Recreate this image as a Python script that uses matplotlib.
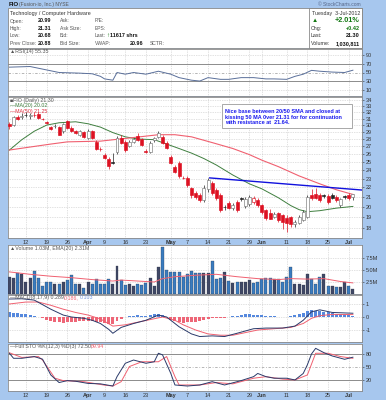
import numpy as np
import matplotlib
matplotlib.use("Agg")
import matplotlib.pyplot as plt
from matplotlib.patches import Rectangle

W, H = 386, 400

# ---- price data (FIO daily, 6-Mar-2012 .. 3-Jul-2012) ----
opens = [30.2, 30.0, 31.2, 31.3, 31.6, 31.4, 31.6, 31.7, 30.95, 30.4,
         29.7, 29.8, 29.7, 29.2, 30.6, 29.6, 29.1, 28.6, 29.0, 28.2,
         29.1, 27.6, 26.7, 25.9, 25.4, 24.95, 26.3, 28.2, 27.6, 27.1,
         27.6, 28.4, 28.0, 26.4, 26.3, 27.8, 28.3, 28.3, 27.5, 25.6,
         24.4, 24.9, 23.1, 23.1, 21.9, 21.4, 21.2, 20.7, 21.8, 22.5,
         21.7, 21.2, 20.0, 20.4, 19.9, 20.5, 20.9, 20.1, 20.3, 20.5,
         20.7, 20.2, 19.7, 19.4, 19.0, 19.4, 19.2, 18.9, 19.0, 18.3,
         18.45, 18.7, 19.0, 21.2, 21.3, 21.2, 21.15, 21.1, 21.2, 21.0,
         20.2, 21.05, 21.2, 20.99]
highs = [30.5, 31.4, 31.5, 31.8, 32.0, 31.9, 32.0, 32.0, 31.1, 30.6,
         29.9, 30.1, 29.9, 30.3, 30.8, 29.8, 29.3, 29.3, 29.2, 29.4,
         29.3, 27.9, 26.9, 26.1, 25.6, 26.1, 28.4, 28.5, 27.8, 27.8,
         28.2, 28.8, 28.2, 26.6, 27.7, 28.3, 29.1, 28.6, 27.7, 25.8,
         24.6, 25.1, 23.3, 23.3, 22.1, 21.6, 21.4, 22.3, 23.1, 22.7,
         21.9, 21.4, 20.2, 20.6, 20.4, 20.7, 21.0, 21.0, 21.2, 21.1,
         20.9, 20.3, 19.8, 19.8, 19.5, 19.5, 19.3, 19.2, 19.1, 18.7,
         19.2, 19.7, 21.2, 21.8, 21.9, 21.4, 21.3, 21.3, 21.4, 21.2,
         20.9, 21.2, 21.4, 21.31]
lows = [29.4, 29.8, 30.7, 30.9, 31.2, 31.0, 31.2, 30.9, 30.7, 30.1,
        29.3, 29.6, 28.5, 28.9, 29.4, 29.0, 28.7, 28.4, 28.1, 28.0,
        28.0, 26.5, 26.4, 25.3, 24.1, 24.7, 26.0, 27.3, 26.3, 26.9,
        27.4, 27.7, 27.0, 26.1, 26.1, 27.6, 28.1, 27.3, 26.6, 24.7,
        23.6, 23.1, 22.9, 22.1, 20.9, 20.8, 20.5, 20.5, 21.5, 21.2,
        20.7, 19.5, 19.7, 19.8, 19.7, 19.5, 20.6, 19.9, 20.1, 20.3,
        20.0, 19.3, 18.7, 18.8, 18.9, 18.5, 17.9, 17.6, 18.1, 18.1,
        18.3, 18.6, 18.9, 20.7, 20.8, 20.5, 20.9, 20.3, 20.8, 20.5,
        20.0, 20.8, 20.7, 20.68]
closes = [29.8, 31.2, 31.0, 31.4, 31.5, 31.6, 31.5, 31.1, 30.9, 30.3,
          29.45, 29.9, 28.6, 30.1, 29.6, 29.15, 28.9, 29.1, 28.3, 29.1,
          28.2, 26.7, 26.6, 25.5, 24.5, 24.85, 28.2, 27.5, 26.5, 27.6,
          28.0, 27.9, 27.2, 26.3, 27.5, 28.1, 28.85, 27.5, 26.8, 24.9,
          23.8, 23.3, 23.05, 22.3, 21.2, 21.0, 20.7, 21.96, 22.85, 21.4,
          20.9, 19.7, 19.95, 19.9, 20.2, 19.7, 20.75, 20.8, 21.0, 20.9,
          20.2, 19.5, 18.9, 18.85, 19.3, 18.7, 18.5, 18.4, 18.3, 18.5,
          19.0, 19.5, 21.0, 20.9, 20.85, 20.7, 21.05, 20.5, 20.9, 20.7,
          20.8, 20.95, 20.88, 21.30]
volume_m = [3.5, 3.3, 4.3, 4.1, 2.4, 3.4, 4.7, 3.4, 1.7, 2.4,
            2.6, 2.1, 2.1, 2.6, 2.9, 3.9, 2.0, 2.0, 1.3, 2.4,
            2.0, 3.1, 2.0, 2.0, 3.1, 2.0, 5.9, 2.9, 1.9, 2.0,
            1.7, 2.0, 1.9, 2.2, 3.3, 1.7, 5.7, 9.7, 4.9, 4.5,
            4.5, 4.5, 3.6, 4.1, 4.8, 4.3, 4.3, 4.3, 4.3, 6.9,
            3.1, 3.3, 4.5, 2.7, 2.2, 2.4, 2.6, 2.6, 2.9, 2.2,
            2.6, 3.1, 3.4, 3.3, 3.1, 3.1, 2.6, 3.6, 5.6, 2.0,
            2.0, 1.9, 4.2, 3.1, 2.0, 3.5, 4.1, 1.7, 1.7, 1.5,
            1.5, 2.4, 1.7, 1.03]

# indicator lines, read at sample days (day index, value)
ma20_day = [0, 3, 6, 9, 12, 16, 19, 22, 25, 28, 31, 35, 38, 41, 44, 47, 50, 54, 58, 61, 65, 68, 70, 72, 75, 79, 83]
ma20_val = [26.5, 27.9, 29.1, 30.0, 30.35, 30.5, 30.2, 29.7, 28.9, 28.3, 28.0, 27.9, 27.3, 26.7, 26.1, 25.4, 24.6, 23.4, 22.4, 21.85, 20.9, 20.1, 19.7, 19.5, 19.6, 19.85, 20.02]
ma50_day = [0, 5, 10, 14, 22, 30, 36, 40, 44, 49, 54, 58, 61, 65, 70, 75, 79, 83]
ma50_val = [26.5, 26.9, 27.3, 27.6, 27.7, 28.2, 28.6, 28.6, 28.3, 27.5, 26.7, 25.9, 25.2, 24.4, 23.3, 22.4, 21.75, 21.25]
res_day = [48.4, 85.2]
res_val = [23.07, 21.72]

vema_day = [0, 5, 10, 15, 20, 25, 27, 30, 35, 37, 40, 45, 50, 55, 60, 65, 68, 72, 76, 80, 83]
vema_val = [4.6, 4.1, 3.7, 3.4, 3.0, 2.7, 2.9, 2.75, 2.5, 3.2, 3.6, 3.9, 4.1, 3.6, 3.2, 3.0, 3.2, 3.1, 3.2, 2.6, 2.31]

rsi_day = [0, 5, 8, 12, 17, 20, 22, 23, 25, 26, 28, 30, 33, 36, 39, 41, 44, 46, 48, 51, 53, 56, 59, 62, 64, 67, 69, 71, 73, 75, 78, 81, 83]
rsi_val = [62.5, 64, 58, 50, 48.5, 47, 41, 35, 32, 50, 46, 50, 46, 53, 46, 38, 32, 30, 38, 34, 34, 38, 38, 35, 35, 34, 41, 46, 55, 53, 51, 50, 55.35]

macd_day = [0, 3, 6, 8, 10, 13, 15, 18, 20, 22, 24, 25, 27, 30, 33, 36, 38, 41, 44, 46, 49, 52, 55, 59, 62, 66, 69, 71, 73, 75, 78, 83]
macd_val = [1.38, 1.4, 1.3, 0.95, 0.6, 0.15, 0.0, -0.1, -0.25, -0.5, -0.95, -1.25, -0.8, -0.5, -0.25, 0.15, 0.0, -0.75, -1.3, -1.5, -1.45, -1.5, -1.25, -0.9, -0.85, -0.85, -0.7, -0.25, 0.4, 0.55, 0.35, 0.289]
sig_day = [0, 4, 7, 10, 13, 16, 19, 22, 25, 28, 31, 34, 37, 40, 42, 45, 48, 51, 54, 57, 60, 64, 68, 71, 73, 75, 78, 83]
sig_val = [1.0, 1.15, 1.15, 0.9, 0.6, 0.35, 0.15, -0.15, -0.7, -0.6, -0.4, -0.2, 0.0, -0.25, -0.6, -1.0, -1.3, -1.4, -1.4, -1.2, -1.0, -0.9, -0.8, -0.5, -0.1, 0.1, 0.2, 0.186]
macd_hist = [0.38, 0.33, 0.28, 0.25, 0.22, 0.15, 0.10, 0.0, -0.1, -0.2,
             -0.3, -0.38, -0.42, -0.45, -0.42, -0.38, -0.35, -0.3, -0.3, -0.3,
             -0.32, -0.35, -0.38, -0.45, -0.5, -0.55, -0.3, -0.15, 0.0, 0.05,
             0.1, 0.12, 0.1, 0.05, 0.15, 0.2, 0.25, 0.15, 0.0, -0.2,
             -0.3, -0.4, -0.45, -0.4, -0.35, -0.35, -0.3, -0.2, -0.15, -0.1,
             -0.05, -0.05, -0.05, 0.0, 0.05, 0.1, 0.15, 0.2, 0.2, 0.18,
             0.15, 0.12, 0.1, 0.08, 0.05, 0.03, 0.0, 0.02, 0.08, 0.15,
             0.25, 0.3, 0.45, 0.5, 0.48, 0.45, 0.4, 0.35, 0.3, 0.25,
             0.2, 0.15, 0.12, 0.103]

stok_day = [0, 1, 3, 6, 8, 10, 12, 14, 16, 19, 22, 25, 26, 28, 30, 33, 35, 36, 37, 39, 40, 43, 46, 49, 52, 56, 59, 60, 62, 64, 67, 69, 71, 72, 73, 74, 76, 78, 81, 83]
stok_val = [81.6, 70, 70, 74, 68, 31.5, 14, 18.5, 17, 12, 11, 6, 27.6, 58.5, 66, 58.5, 62, 81.6, 78, 35, 8.4, 6, 8.4, 16, 8.4, 18.5, 27.6, 35, 27.6, 24, 24, 20, 35, 55, 80, 93, 83, 75.4, 67.7, 72.5]
stod_day = [0, 3, 7, 8, 11, 13, 18, 23, 25, 27, 29, 32, 36, 38, 40, 41, 46, 50, 54, 59, 62, 66, 69, 72, 74, 77, 80, 83]
stod_val = [82.7, 72, 74, 66, 24, 18.5, 16, 8, 6, 16, 51, 62, 62, 74, 27.6, 8.4, 8.4, 14, 11, 24, 27.6, 22, 20, 31.5, 81.6, 81.6, 74, 69.94]

tick_day = [4, 9, 14, 19, 23, 28, 33, 39, 43, 48, 53, 58, 61, 67, 72, 77, 82]
tick_lbl = ["12", "19", "26", "Apr", "9", "16", "23", "May", "7", "14", "21", "29", "Jun", "11", "18", "25", "Jul"]
months = {"Apr", "May", "Jun", "Jul"}

BG = "#a7c7ee"
RED = "#dd1122"
DARK = "#222222"
FONT = "Liberation Sans"
plt.rcParams["font.family"] = [FONT, "DejaVu Sans"]

n = len(closes)
days = np.arange(n)

fig = plt.figure(figsize=(W / 100, H / 100), dpi=100, facecolor=BG)


def px_axes(x0, y0, x1, y1):
    ax = fig.add_axes([x0 / W, 1 - y1 / H, (x1 - x0) / W, (y1 - y0) / H])
    ax.set_facecolor("white")
    for s in ax.spines.values():
        s.set_color("#8a8a8a")
        s.set_linewidth(0.6)
    ax.set_xlim(-0.34, 85.2)
    ax.set_xticks(tick_day)
    ax.set_xticklabels([])
    ax.tick_params(axis="x", length=0)
    ax.yaxis.tick_right()
    ax.tick_params(axis="y", labelsize=4, length=1.5, width=0.4, pad=1,
                   colors="#333333")
    ax.grid(color="#c4c4c4", ls=(0, (1, 1.5)), lw=0.5)
    return ax


def ftext(x, y, s, **kw):
    kw.setdefault("fontsize", 4)
    kw.setdefault("va", "center")
    kw.setdefault("color", "#333333")
    return fig.text(x / W, 1 - y / H, s, **kw)


def frect(x0, y0, x1, y1, **kw):
    r = Rectangle((x0 / W, 1 - y1 / H), (x1 - x0) / W, (y1 - y0) / H,
                  transform=fig.transFigure, **kw)
    fig.add_artist(r)
    return r


def bottom_labels(ax):
    ax.set_xticklabels(tick_lbl)
    ax.tick_params(axis="x", labelsize=4, pad=1.5, colors="#333333")
    for t in ax.get_xticklabels():
        if t.get_text() in months:
            t.set_fontweight("bold")


# ---- header ----
frect(8, 7.5, 362, 48, facecolor="white", edgecolor="#8a8a8a", lw=0.6, zorder=0)
frect(309, 7.5, 362, 48, facecolor="none", edgecolor="#8a8a8a", lw=0.6, zorder=0)
ftext(9, 4.4, "FIO", fontsize=4.4, fontweight="bold", color="#111111")
ftext(19, 4.4, "(Fusion-io, Inc.) NYSE", fontsize=3.6, color="#555555")
ftext(361, 4.2, "© StockCharts.com", fontsize=3.5, ha="right", color="#556688")
ftext(10, 14, "Technology / Computer Hardware", fontsize=3.9)
rows = [("Open:", "20.99", "Ask:", "P/E:"), ("High:", "21.31", "Ask Size:", "EPS:"),
        ("Low:", "20.68", "Bid:", "Last:"), ("Prev Close:", "20.88", "Bid Size:", "VWAP:")]
for k, (a, b, c, d) in enumerate(rows):
    yy = 21 + k * 7.4
    ftext(10, yy, a, fontsize=3.6, color="#555555")
    ftext(51, yy, b, ha="right", fontsize=3.9, fontweight="bold", color="#111111")
    ftext(60, yy, c, fontsize=3.6, color="#555555")
    ftext(95, yy, d, fontsize=3.6, color="#555555")
ftext(106.5, 35.8, "\u2191", fontsize=4.5, color="#117711", fontweight="bold")
ftext(110, 35.8, "11617 shrs", fontsize=3.9, fontweight="bold", color="#111111")
ftext(143, 43.2, "20.96", ha="right", fontsize=3.9, fontweight="bold", color="#111111")
ftext(150, 43.2, "SCTR:", fontsize=3.6, color="#555555")
ftext(360, 14, "Tuesday  3-Jul-2012", ha="right", fontsize=3.8)
ftext(312, 21, "\u25B2", fontsize=4.5, color="#117711")
ftext(360, 21, "+2.01%", ha="right", fontsize=5.2, color="#117711", fontweight="bold")
ftext(311, 28.5, "Chg:", fontsize=3.8)
ftext(360, 28.5, "+0.42", ha="right", fontsize=4, fontweight="bold", color="#117711")
ftext(311, 35.8, "Last:", fontsize=3.8)
ftext(360, 35.8, "21.30", ha="right", fontsize=4, fontweight="bold", color="#111111")
ftext(311, 43.2, "Volume:", fontsize=3.8)
ftext(360, 43.2, "1,030,811", ha="right", fontsize=4, fontweight="bold", color="#111111")

# ---- RSI panel ----
ax_rsi = px_axes(8, 49, 362, 96)
ax_rsi.set_ylim(-5, 105)
ax_rsi.set_yticks([10, 30, 50, 70, 90])
ax_rsi.grid(axis="y", visible=False)
for lvl in (30, 70):
    ax_rsi.axhline(lvl, color="#8c8c8c", lw=0.7)
ax_rsi.axhline(50, color="#aaaaaa", lw=0.6, ls=(0, (3, 2, 1, 2)))
for lvl in (10, 90):
    ax_rsi.axhline(lvl, color="#c4c4c4", lw=0.5, ls=(0, (1, 1.5)))
ax_rsi.plot(rsi_day, rsi_val, color="#5a6f9a", lw=0.7)
ftext(10, 51.5, "\u25B2RSI(14) 55.35", fontsize=3.8, color="#555555")

# ---- price panel ----
ax_p = px_axes(8, 97, 362, 238)
ax_p.set_yscale("log")
ax_p.set_ylim(17.11, 34.5)
ticks = list(range(18, 35))
ax_p.set_yticks(ticks)
ax_p.set_yticklabels([str(t) for t in ticks])
ax_p.yaxis.set_minor_locator(matplotlib.ticker.NullLocator())
ax_p.plot(ma20_day, ma20_val, color="#3f7f3f", lw=0.7, zorder=2)
ax_p.plot(ma50_day, ma50_val, color="#f06070", lw=0.8, zorder=2)
for i in range(n):
    o, h, l, c = opens[i], highs[i], lows[i], closes[i]
    prev = closes[i - 1] if i else o
    col = RED if c < prev else DARK
    ax_p.vlines(i, l, h, color=col, lw=0.5, zorder=3)
    lo, hi = min(o, c), max(o, c)
    if hi - lo < 0.05:
        hi = lo + 0.05
    if c < o:
        face, edge = col, col
    else:
        face, edge = "white", (col if col == RED else "#777777")
    ax_p.add_patch(Rectangle((i - 0.36, lo), 0.72, hi - lo, facecolor=face,
                             edgecolor=edge, lw=0.45, zorder=4))
ax_p.plot(res_day, res_val, color="#1111dd", lw=1.0, zorder=5)
bottom_labels(ax_p)
ftext(10, 100.5, "\u25A0FIO (Daily) 21.30", fontsize=3.8, color="#555555")
ftext(10, 106, "\u2014MA(20) 20.02", fontsize=3.8, color="#3f7f3f")
ftext(10, 111.5, "\u2014MA(50) 21.25", fontsize=3.8, color="#e03040")

# annotation box
frect(222, 104, 352, 128, facecolor="white", edgecolor="#9a9a9a", lw=0.6, zorder=6)
note = ["Nice base between 20/50 SMA and closed at",
        "kissing 50 MA 0ver 21.31 for for continuation",
        "with resistance at  21.64."]
for k, line in enumerate(note):
    ftext(225, 111 + k * 6, line, fontsize=4.0, fontweight="bold", color="#1a1aee", zorder=7)

# ---- volume panel ----
ax_v = px_axes(8, 245, 362, 294)
ax_v.set_ylim(0, 10.2)
ax_v.set_yticks([2.5, 5.0, 7.5])
ax_v.set_yticklabels(["2.5M", "5.0M", "7.5M"])
vcol = ["#404866" if (i == 0 or closes[i] >= closes[i - 1]) else "#3a7cc0" for i in range(n)]
ax_v.bar(days, volume_m, width=0.72, color=vcol, edgecolor="#2a3040", lw=0.2, zorder=3)
ax_v.plot(vema_day, vema_val, color="#f06070", lw=0.7, zorder=4)
ftext(10, 248.5, "\u25B2Volume 1.03M, EMA(20) 2.31M", fontsize=3.8, color="#555555")

# ---- MACD panel ----
ax_m = px_axes(8, 295, 362, 342)
ax_m.set_ylim(-1.92, 1.69)
ax_m.set_yticks([-1, 0, 1])
ax_m.set_yticklabels(["-1", "0", "1"])
hcol = ["#5588dd" if v >= 0 else "#ee6677" for v in macd_hist]
ax_m.bar(days, macd_hist, width=0.72, color=hcol, lw=0, zorder=2)
ax_m.plot(sig_day, sig_val, color="#f06070", lw=0.7, zorder=3)
ax_m.plot(macd_day, macd_val, color="#2a3a6a", lw=0.7, zorder=4)
ftext(10, 297.5, "\u2014MACD(8,17,9) 0.289,", fontsize=3.8, color="#555555")
ftext(64, 297.5, "0.186,", fontsize=3.8, color="#f06070")
ftext(80, 297.5, "0.103", fontsize=3.8, color="#7799dd")

# ---- Full STO panel ----
ax_s = px_axes(8, 344, 362, 391)
ax_s.set_ylim(-5.5, 103)
ax_s.set_yticks([20, 50, 80])
ax_s.grid(axis="y", visible=False)
for lvl in (20, 80):
    ax_s.axhline(lvl, color="#8c8c8c", lw=0.7)
ax_s.axhline(50, color="#aaaaaa", lw=0.6, ls=(0, (3, 2, 1, 2)))
ax_s.plot(stod_day, stod_val, color="#f06070", lw=0.7)
ax_s.plot(stok_day, stok_val, color="#2a3a6a", lw=0.7)
bottom_labels(ax_s)
ftext(10, 346.5, "\u2014Full STO %K(12,3) %D(3) 72.50,", fontsize=3.8, color="#555555")
ftext(91, 346.5, "69.94", fontsize=3.8, color="#f06070")

fig.savefig("out.png", dpi=100, facecolor=BG)
